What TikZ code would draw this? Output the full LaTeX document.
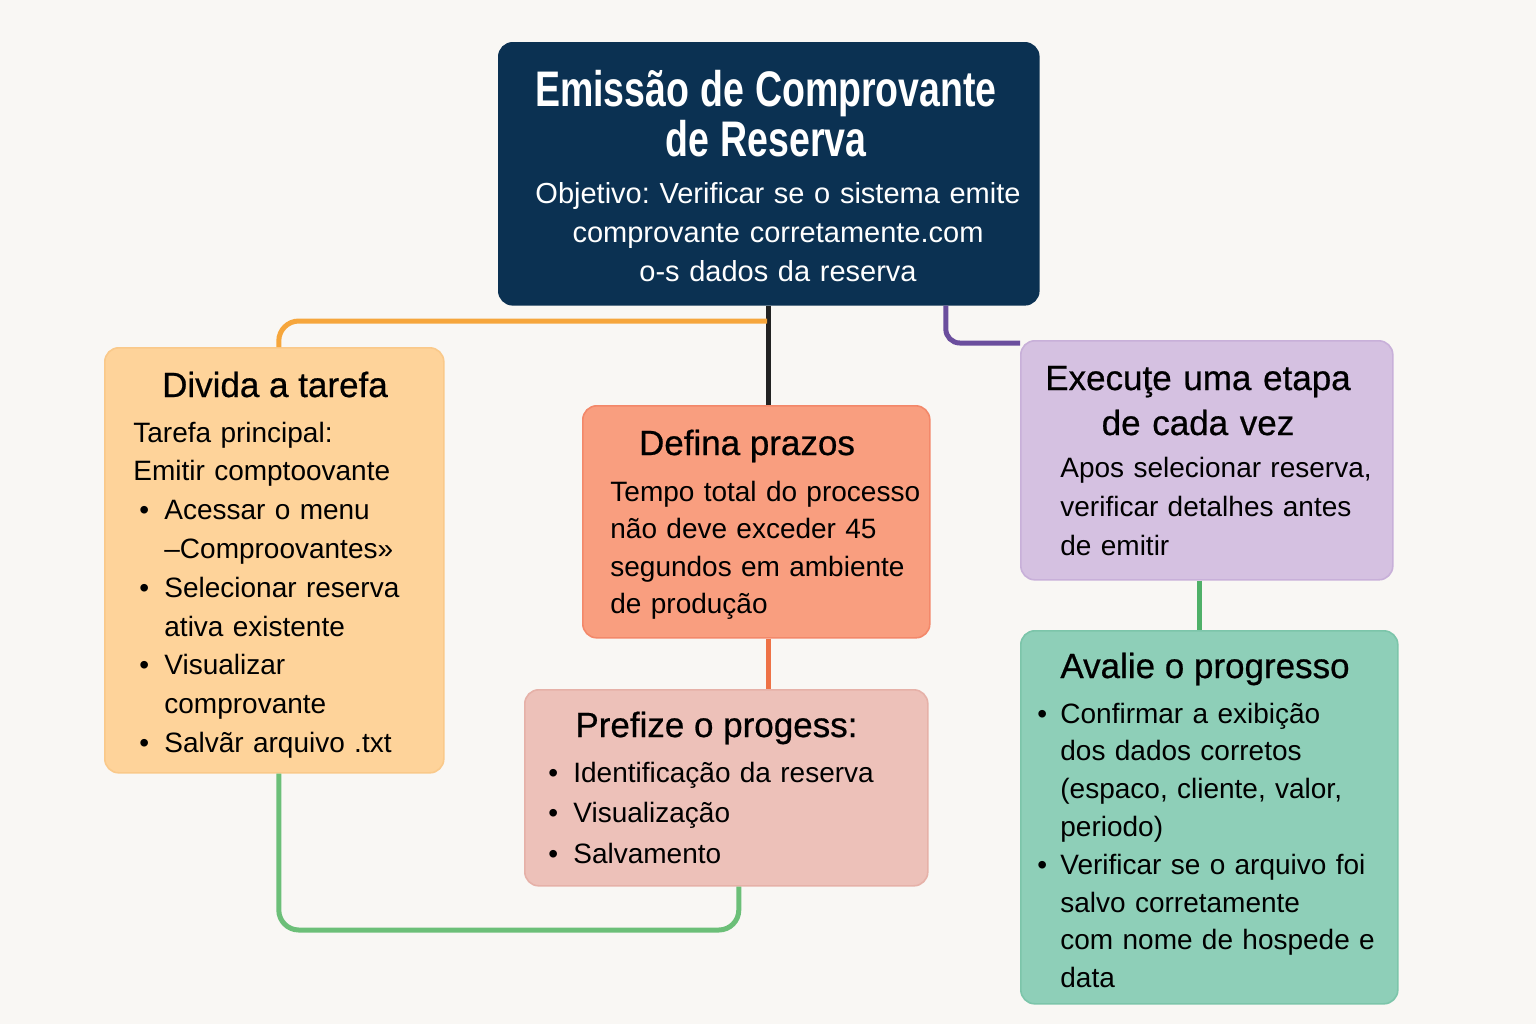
\documentclass[tikz,border=0pt]{standalone}
\usepackage{fontspec}
\setmainfont{Liberation Sans}
\newfontfamily\headfont[FakeBold=0.6]{Liberation Sans}
\newfontfamily\titlefont[FakeStretch=0.75]{Liberation Sans}
\frenchspacing

\definecolor{paper}{HTML}{F9F7F4}
\definecolor{navy}{HTML}{0B3152}
\definecolor{tarefafill}{HTML}{FED39A}
\definecolor{tarefaline}{HTML}{FAC98A}
\definecolor{prazofill}{HTML}{F99E7F}
\definecolor{prazoline}{HTML}{F3886A}
\definecolor{prefizefill}{HTML}{EDC1B9}
\definecolor{prefizeline}{HTML}{E6B1A8}
\definecolor{etapafill}{HTML}{D5C1E1}
\definecolor{etapaline}{HTML}{C8B0D9}
\definecolor{avalfill}{HTML}{8ECFB8}
\definecolor{avalline}{HTML}{7CC5AA}
\definecolor{inkdark}{HTML}{222222}
\definecolor{orangelink}{HTML}{F6A63C}
\definecolor{purplelink}{HTML}{6B4E9D}
\definecolor{redlink}{HTML}{EE7246}
\definecolor{greenlink}{HTML}{4FB068}
\definecolor{looplink}{HTML}{6CBF78}

\newcommand{\bul}[1]{\makebox[#1][l]{\textbullet}}

\begin{document}
\begin{tikzpicture}[x=0.5pt,y=-0.5pt,
  card/.style={draw,line width=0.8pt,rounded corners=7pt,anchor=north west,inner sep=0pt},
  head/.style={font=\headfont\fontsize{17.5}{22.5}\selectfont,inner sep=0pt,anchor=base,text=black},
  body/.style={font=\fontsize{14}{19.4}\selectfont,inner sep=0pt,anchor=base west,align=left,text width=190pt,text=black},
  link/.style={line width=2.5pt,rounded corners=10pt}]

  \fill[paper] (0,0) rectangle (1536,1024);
  \useasboundingbox (0,0) rectangle (1536,1024);

  % boxes
  \node[card,fill=navy,draw=navy,minimum width=270pt,minimum height=131pt] (title) at (498,42) {};
  \node[card,fill=tarefafill,draw=tarefaline,minimum width=169.5pt,minimum height=212.5pt] (tarefa) at (104,347) {};
  \node[card,fill=prazofill,draw=prazoline,minimum width=173.5pt,minimum height=116pt] (prazos) at (582,405) {};
  \node[card,fill=prefizefill,draw=prefizeline,minimum width=201.5pt,minimum height=98pt] (prefize) at (524,689) {};
  \node[card,fill=etapafill,draw=etapaline,minimum width=186pt,minimum height=119.5pt] (etapa) at (1020,340) {};
  \node[card,fill=avalfill,draw=avalline,minimum width=188.5pt,minimum height=186.5pt] (aval) at (1020,630) {};

  % title texts
  \node[inner sep=0pt,anchor=base,align=center,text width=260pt,text=white,
        font=\titlefont\bfseries\fontsize{25}{25}\selectfont] (title-h) at (766,106) {\spaceskip=5.5pt\relax Emissão de Comprovante\\de Reserva};
  \node[inner sep=0pt,anchor=base,align=center,text width=260pt,text=white,
        font=\fontsize{14.5}{19.5}\selectfont] (title-b) at (778,203) {Objetivo: Verificar se o sistema emite\\comprovante corretamente.com\\o-s dados da reserva};

  % tarefa
  \node[head] (tarefa-h) at (275,397) {Divida a tarefa};
  \node[body] (tarefa-b) at (133,442) {Tarefa principal:\\
    Emitir comptoovante\\
    \hspace*{3pt}\bul{12.5pt}Acessar o menu\\
    \hspace*{15.5pt}–Comproovantes»\\
    \hspace*{3pt}\bul{12.5pt}Selecionar reserva\\
    \hspace*{15.5pt}ativa existente\\
    \hspace*{3pt}\bul{12.5pt}Visualizar\\
    \hspace*{15.5pt}comprovante\\
    \hspace*{3pt}\bul{12.5pt}Salvãr arquivo .txt};

  % prazos
  \node[head] (prazos-h) at (747,455) {Defina prazos};
  \node[body,font=\fontsize{14}{18.75}\selectfont] (prazos-b) at (610,501) {Tempo total do processo\\
    não deve exceder 45\\
    segundos em ambiente\\
    de produção};

  % prefize
  \node[head,anchor=base west] (prefize-h) at (575,737) {Prefize o progess:};
  \node[body,font=\fontsize{14}{20.25}\selectfont] (prefize-b) at (548,782) {\bul{12.5pt}Identificação da reserva\\
    \bul{12.5pt}Visualização\\
    \bul{12.5pt}Salvamento};

  % etapa
  \node[head,align=center,text width=180pt] (etapa-h) at (1198,390) {Execuţe uma etapa\\de cada vez};
  \node[body,font=\fontsize{14}{19.5}\selectfont] (etapa-b) at (1060,477) {Apos selecionar reserva,\\
    verificar detalhes antes\\
    de emitir};

  % aval
  \node[head,anchor=base west] (aval-h) at (1060,678) {Avalie o progresso};
  \node[body,font=\fontsize{14}{18.9}\selectfont] (aval-b) at (1037,723) {\bul{11.5pt}Confirmar a exibição\\
    \hspace*{11.5pt}dos dados corretos\\
    \hspace*{11.5pt}(espaco, cliente, valor,\\
    \hspace*{11.5pt}periodo)\\
    \bul{11.5pt}Verificar se o arquivo foi\\
    \hspace*{11.5pt}salvo corretamente\\
    \hspace*{11.5pt}com nome de hospede e\\
    \hspace*{11.5pt}data};

  % connectors
  \coordinate (fork) at (767,321);
  \coordinate (loop) at (500,930);
  \draw[link,inkdark] (title.south) -- (title.south |- prazos.north);
  \draw[link,orangelink] (fork) -| ([xshift=2.25pt]tarefa.north);
  \draw[link,purplelink,rounded corners=7pt] ([xshift=88.5pt]title.south) |- ([yshift=-1.5pt]etapa.north west);
  \draw[link,redlink] (title.south |- prazos.south) -- (title.south |- prefize.north);
  \draw[link,greenlink] ([xshift=-3.5pt]etapa.south) -- ([xshift=-3.5pt]etapa.south |- aval.north);
  \draw[link,looplink] ([xshift=2.25pt]tarefa.south) |- (loop) -| ([xshift=6.25pt]prefize.south);
\end{tikzpicture}
\end{document}
